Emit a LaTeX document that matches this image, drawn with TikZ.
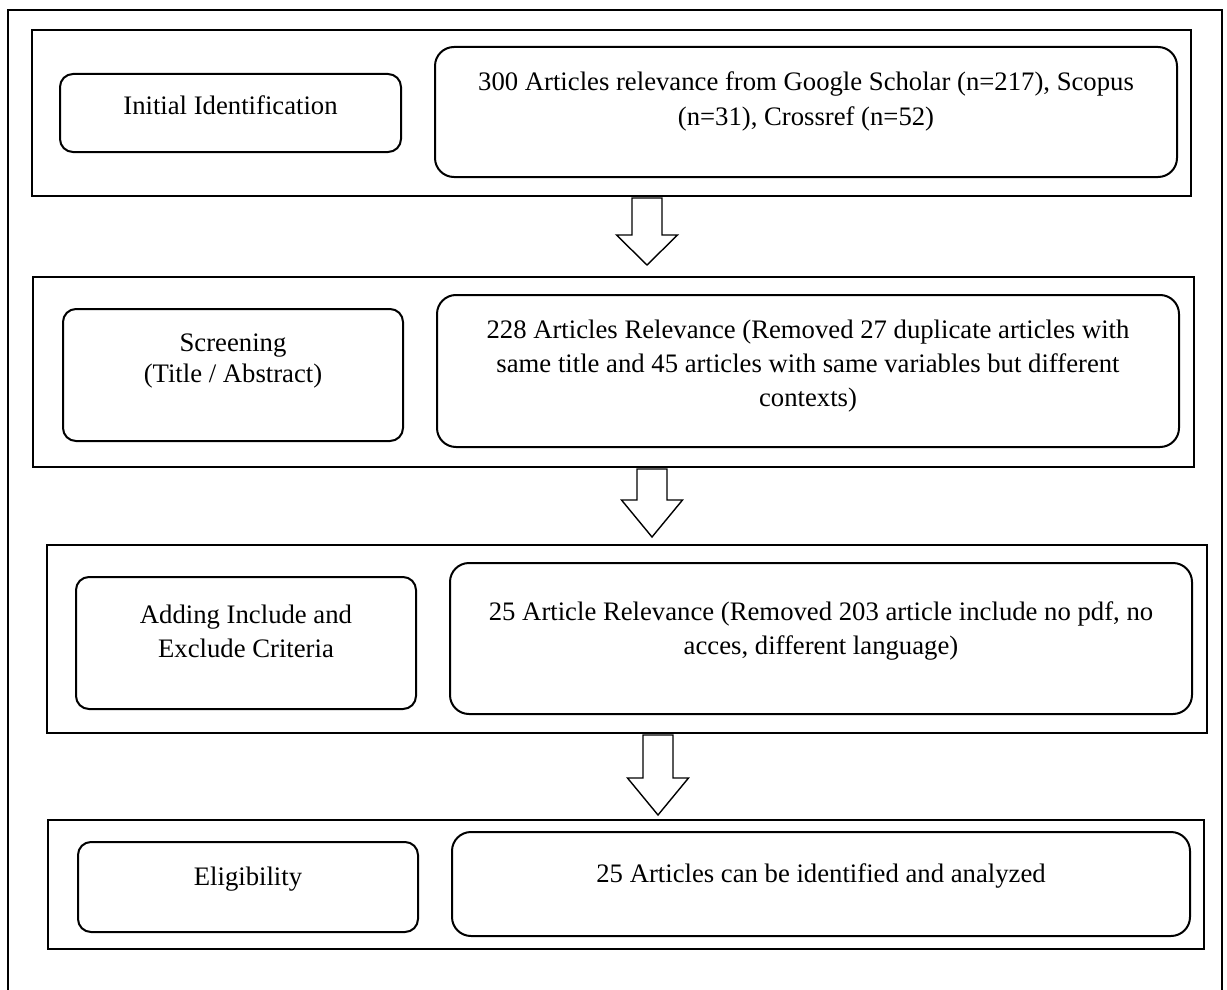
\documentclass[tikz,border=0pt]{standalone}
\usepackage{fontspec}
\setmainfont{Liberation Serif}
\begin{document}
\begin{tikzpicture}[x=1pt,y=-1pt,
  stagebox/.style={draw=black, line width=2pt, inner sep=0pt, outer sep=0pt},
  leftbox/.style={draw=black, line width=2pt, rounded corners=13pt, inner sep=0pt, outer sep=0pt},
  rightbox/.style={draw=black, line width=2pt, rounded corners=19pt, inner sep=0pt, outer sep=0pt},
  txt/.style={anchor=base, align=center, inner sep=0pt, font=\fontsize{26.7}{34}\selectfont},
  arrowshape/.style={draw=black, line width=1.4pt, fill=white, line join=miter}
]
\clip (0,0) rectangle (1227,990);
\useasboundingbox (0,0) rectangle (1227,990);
% outer frame
\draw[line width=2pt] (8,10) rectangle (1222,1010);

% stage frames
\node[stagebox, minimum width=1159pt, minimum height=166pt] (s1) at (611.5,113) {};
\node[stagebox, minimum width=1161pt, minimum height=190pt] (s2) at (613.5,372) {};
\node[stagebox, minimum width=1160pt, minimum height=188pt] (s3) at (627,639) {};
\node[stagebox, minimum width=1156pt, minimum height=129pt] (s4) at (626,884.5) {};

% left boxes
\node[leftbox, minimum width=341pt, minimum height=78pt] (l1) at (230.5,113) {};
\node[leftbox, minimum width=340pt, minimum height=132pt] (l2) at (233,375) {};
\node[leftbox, minimum width=340pt, minimum height=132pt] (l3) at (246,643) {};
\node[leftbox, minimum width=340pt, minimum height=90pt] (l4) at (248,887) {};

% right boxes
\node[rightbox, minimum width=742pt, minimum height=130pt] (r1) at (806,112) {};
\node[rightbox, minimum width=742pt, minimum height=152pt] (r2) at (808,371) {};
\node[rightbox, minimum width=742pt, minimum height=151pt] (r3) at (821,638.5) {};
\node[rightbox, minimum width=738pt, minimum height=104pt] (r4) at (821,884) {};

% texts (anchor base = baseline of the last line)
\node[txt] (tl1) at (230.5,114) {Initial Identification};
\node[txt, font=\fontsize{26.7}{31}\selectfont] (tl2) at (233,382) {Screening\\(Title / Abstract)};
\node[txt] (tl3) at (246,657) {Adding Include and\\Exclude Criteria};
\node[txt] (tl4) at (248,885) {Eligibility};

\node[txt, font=\fontsize{26.7}{35}\selectfont] (tr1) at (806,125) {300 Articles relevance from Google Scholar (n=217), Scopus\\(n=31), Crossref (n=52)};
\node[txt] (tr2) at (808,406) {228 Articles Relevance (Removed 27 duplicate articles with\\same title and 45 articles with same variables but different\\contexts)};
\node[txt] (tr3) at (821,654) {25 Article Relevance (Removed 203 article include no pdf, no\\acces, different language)};
\node[txt] (tr4) at (821,882) {25 Articles can be identified and analyzed};

% block arrows
\newcommand\blockarrow[4]{%
  \draw[arrowshape] (#1-15,#2) -- (#1-15,#3) -- (#1-30.5,#3) -- (#1,#4) -- (#1+30.5,#3) -- (#1+15,#3) -- (#1+15,#2) -- cycle;}
\blockarrow{647}{198}{235}{265}
\blockarrow{652}{469}{500}{537}
\blockarrow{658}{735}{778}{815}
\end{tikzpicture}
\end{document}
